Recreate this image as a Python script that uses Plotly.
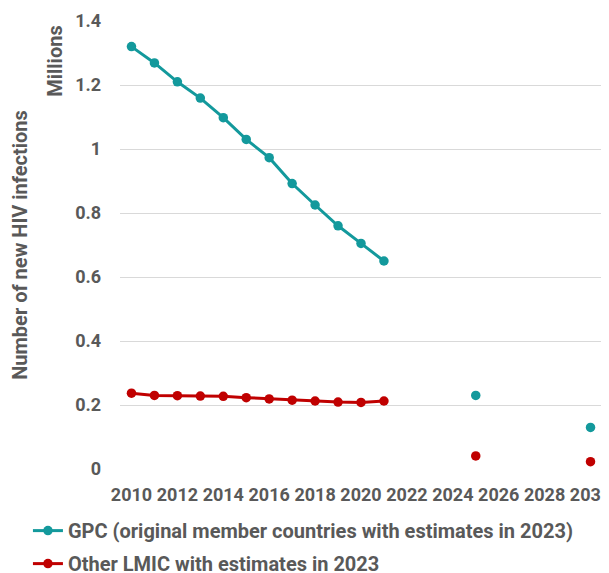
import plotly.graph_objects as go

years = list(range(2010, 2031))
gpc = [1.320, 1.269, 1.210, 1.159, 1.098, 1.030, 0.973, 0.892, 0.825, 0.760, 0.705, 0.650,
       None, None, None, 0.230, None, None, None, None, 0.130]
lmic = [0.237, 0.230, 0.229, 0.228, 0.227, 0.223, 0.219, 0.215, 0.2125, 0.209, 0.208, 0.2125,
        None, None, None, 0.041, None, None, None, None, 0.023]

teal = "#13999C"
red = "#C00000"
gray = "#595959"
FONT = "Roboto"

fig = go.Figure()
fig.add_trace(go.Scatter(
    x=years, y=gpc, mode="lines+markers", connectgaps=False,
    name="GPC (original member countries with estimates in 2023)", legendgroup="a",
    line=dict(color=teal, width=3), marker=dict(color=teal, size=9.5)))
fig.add_trace(go.Scatter(
    x=years, y=lmic, mode="lines+markers", connectgaps=False,
    name="Other LMIC with estimates in 2023", legendgroup="b",
    line=dict(color=red, width=3), marker=dict(color=red, size=9.5)))

tick_fnt = dict(family=FONT, size=18, color=gray, weight="bold")
big_fnt = dict(family=FONT, size=20, color=gray, weight="bold")
fig.update_layout(
    width=601, height=565,
    margin=dict(l=112, r=7, t=13, b=104, autoexpand=False),
    plot_bgcolor="white", paper_bgcolor="white",
    font=tick_fnt,
    showlegend=True,
    legend=dict(x=-0.191, y=-0.094, xanchor="left", yanchor="top",
                orientation="v", font=big_fnt,
                itemwidth=30, tracegroupgap=4, bgcolor="rgba(0,0,0,0)"),
    xaxis=dict(range=[2009.5, 2030.5], tick0=2010, dtick=2, showgrid=False,
               zeroline=False, showline=False, ticks="", automargin=False,
               tickfont=tick_fnt, ticklabelstandoff=13, ticklabeloverflow="allow"),
    yaxis=dict(range=[0, 1.4], dtick=0.2, showgrid=True, gridcolor="#D9D9D9",
               gridwidth=1, zeroline=False, showline=False, ticks="", automargin=False,
               tickfont=tick_fnt, ticklabelstandoff=18,
               title=dict(text="Number of new HIV infections", standoff=46, font=big_fnt)),
)
fig.add_annotation(text="Millions", xref="paper", yref="paper",
                   x=-0.135, y=0.911, xanchor="center", yanchor="middle",
                   textangle=-90, showarrow=False, font=big_fnt)

fig.write_html("out.html")
